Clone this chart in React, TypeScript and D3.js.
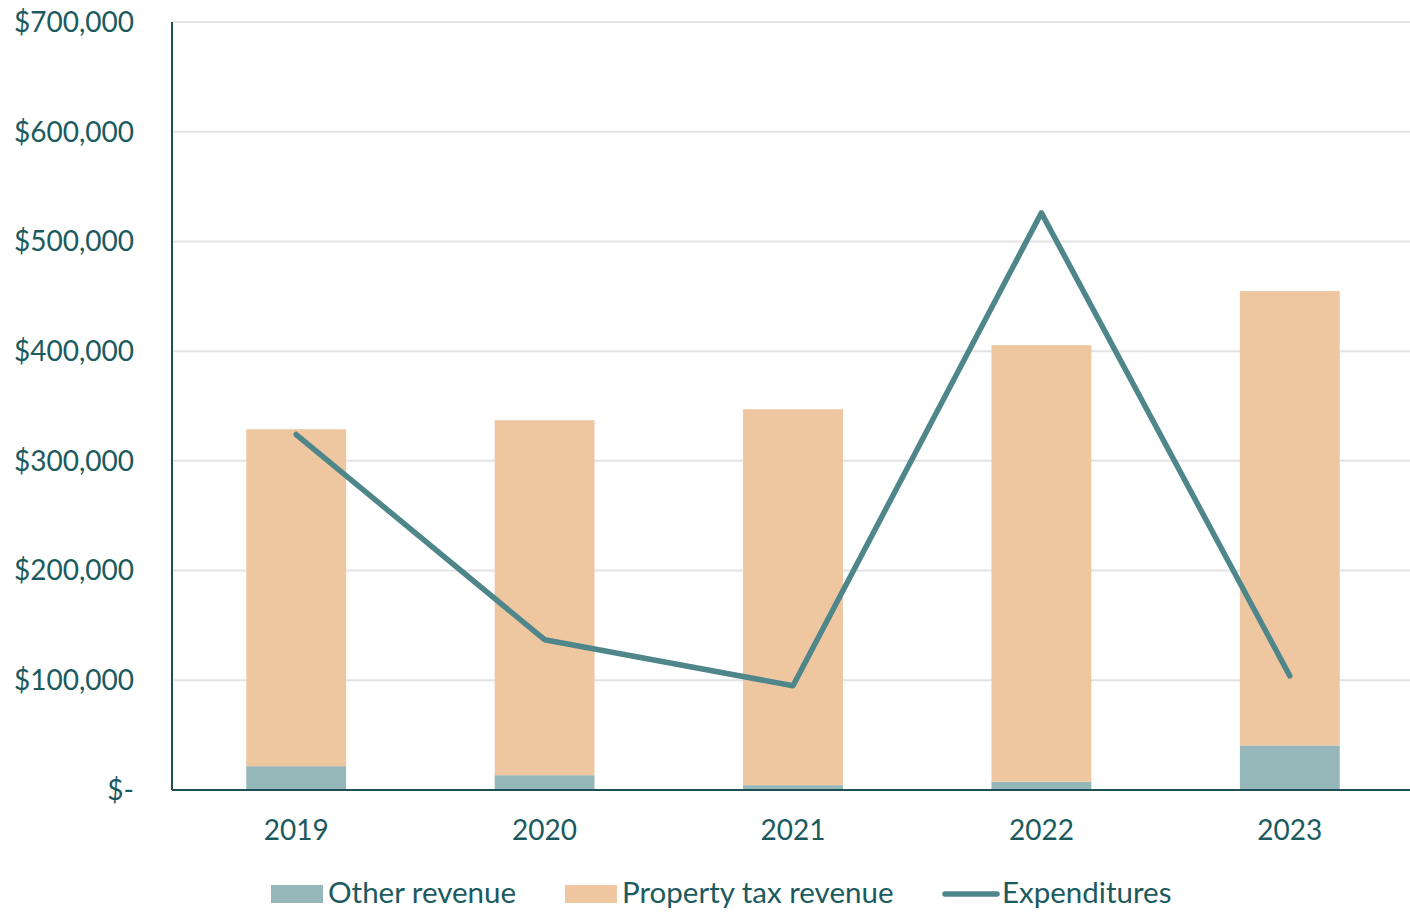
import React from "react";
import * as d3 from "d3";

const years = ["2019", "2020", "2021", "2022", "2023"];
const otherRevenue = [21700, 13500, 4400, 7500, 40600];
const propertyTax = [307100, 323500, 342600, 397900, 414100];
const expenditures = [324000, 137000, 95000, 526000, 104000];
const yTicks = [0, 100000, 200000, 300000, 400000, 500000, 600000, 700000];

const W = 1410, H = 912;
const left = 172, right = 1410, top = 22, bottom = 790;
const textColor = "#1B5A5E";
const otherColor = "#95B7B9";
const propColor = "#EEC7A0";
const lineColor = "#4E868A";
const font = "Lato, 'Open Sans', sans-serif";

export default function App() {
  const x = d3.scaleBand<string>().domain(years).range([left, 1414]).paddingInner(0.598).paddingOuter(0.299);
  const y = d3.scaleLinear().domain([0, 700000]).range([bottom, top]);
  const fmt = (v: number) => (v === 0 ? "$-" : "$" + d3.format(",")(v));
  const line = d3
    .line<number>()
    .x((_, i) => (x(years[i]) as number) + x.bandwidth() / 2)
    .y((d) => y(d));

  return (
    <svg width={W} height={H} style={{ position: "absolute", left: 0, top: 0, background: "#fff" }} fontFamily={font}>
      {yTicks.map((t) => (
        <g key={t}>
          {t > 0 && <line x1={left} x2={right} y1={y(t)} y2={y(t)} stroke="#E3E3E3" strokeWidth={2} />}
          <text x={134} y={y(t)} dy="0.35em" textAnchor="end" fontSize={28} fill={textColor}>
            {fmt(t)}
          </text>
        </g>
      ))}
      {years.map((yr, i) => {
        const bx = x(yr) as number;
        const bw = x.bandwidth();
        return (
          <g key={yr}>
            <rect x={bx} width={bw} y={y(otherRevenue[i])} height={y(0) - y(otherRevenue[i])} fill={otherColor} />
            <rect
              x={bx}
              width={bw}
              y={y(otherRevenue[i] + propertyTax[i])}
              height={y(otherRevenue[i]) - y(otherRevenue[i] + propertyTax[i])}
              fill={propColor}
            />
            <text x={bx + bw / 2} y={840} textAnchor="middle" fontSize={28} fill={textColor}>
              {yr}
            </text>
          </g>
        );
      })}
      <path d={line(expenditures) || ""} fill="none" stroke={lineColor} strokeWidth={5.5} strokeLinejoin="round" strokeLinecap="round" />
      <line x1={left} x2={left} y1={top} y2={bottom} stroke="#1F4F52" strokeWidth={2} />
      <line x1={left} x2={right} y1={bottom} y2={bottom} stroke="#1F4F52" strokeWidth={2} />
      <g>
        <rect x={271} y={885} width={52} height={18} fill={otherColor} />
        <text x={328} y={903} fontSize={29.5} fill={textColor}>Other revenue</text>
        <rect x={565} y={885} width={52} height={18} fill={propColor} />
        <text x={622} y={903} fontSize={29.5} fill={textColor}>Property tax revenue</text>
        <line x1={945} x2={997} y1={894} y2={894} stroke={lineColor} strokeWidth={5.5} strokeLinecap="round" />
        <text x={1002} y={903} fontSize={29.5} fill={textColor}>Expenditures</text>
      </g>
    </svg>
  );
}
